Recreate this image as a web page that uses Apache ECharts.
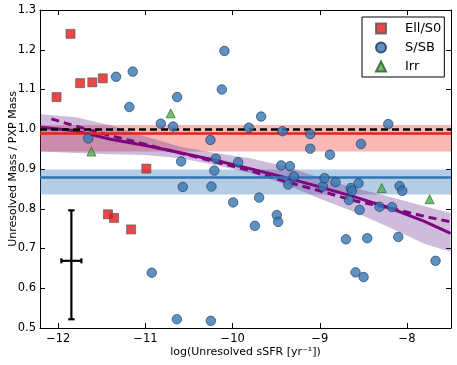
<!DOCTYPE html>
<html>
<head>
<meta charset="utf-8">
<script src="https://cdn.jsdelivr.net/npm/echarts@6/dist/echarts.min.js"></script>
<style>
html,body{margin:0;padding:0;background:#fff;}
#main{width:457px;height:365px;}
</style>
</head>
<body>
<div id="main"></div>
<script>
// Ell/S0 galaxies
var ellSSFR=[-12.02,-11.86,-11.75,-11.61,-11.49,-10.99,-11.43,-11.36,-11.165];
var ellRatio=[1.081,1.240,1.116,1.118,1.128,0.901,0.786,0.777,0.748];
// S/SB galaxies
var spSSFR=[-11.656,-11.337,-11.146,-11.185,-10.928,-10.824,-10.683,-10.637,-10.64,-10.591,
	-10.572,-10.255,-10.25,-10.243,-10.21,-10.193,-10.124,-10.094,-9.994,-9.937,
	-9.814,-9.745,-9.696,-9.673,-9.493,-9.478,-9.443,-9.428,-9.363,-9.343,
	-9.297,-9.11,-9.11,-8.965,-8.946,-8.884,-8.82,-8.70,-8.666,-8.643,
	-8.632,-8.59,-8.556,-8.544,-8.528,-8.498,-8.456,-8.315,-8.215,-8.172,
	-8.10,-8.085,-8.054,-7.672];
var spRatio=[0.977,1.132,1.145,1.056,0.639,1.014,1.007,1.081,0.522,0.919,
	0.855,0.973,0.518,0.856,0.896,0.926,1.100,1.197,0.816,0.917,
	1.004,0.757,0.828,1.032,0.784,0.767,0.909,0.995,0.861,0.907,
	0.881,0.988,0.951,0.856,0.877,0.936,0.867,0.723,0.822,0.852,
	0.845,0.640,0.864,0.797,0.963,0.628,0.726,0.805,1.013,0.804,
	0.729,0.857,0.845,0.669];
// Irr galaxies
var irrSSFR=[-10.71,-11.62,-8.29,-7.74];
var irrRatio=[1.040,0.944,0.852,0.824];

// reference levels
var unity=1.0;
var ellMedian=0.988, ellBand=[0.944,1.011];
var spMedian=0.877, spBand=[0.836,0.899];

// running median (solid), fit (dashed) and spread band
var trendX=[-12.2,-11.8,-11.4,-11.0,-10.6,-10.2,-9.8,-9.4,-9.0,-8.6,-8.2,-7.8,-7.5];
var trendMedian=[1.005,0.996,0.975,0.959,0.941,0.922,0.901,0.879,0.855,0.830,0.802,0.768,0.738];
var bandLow=[0.944,0.940,0.937,0.935,0.927,0.910,0.890,0.862,0.825,0.792,0.753,0.712,0.692];
var bandHigh=[1.038,1.030,1.010,0.982,0.956,0.940,0.927,0.907,0.878,0.852,0.830,0.806,0.789];
var fitX=[-12.08,-11.8,-11.4,-11.0,-10.6,-10.2,-9.8,-9.4,-9.0,-8.6,-8.2,-7.8,-7.5];
var fitRatio=[1.026,1.008,0.984,0.962,0.940,0.918,0.896,0.869,0.845,0.820,0.802,0.781,0.767];

// typical error bar
var errPoint=[-11.85,0.669];
var errX=[-11.965,-11.735];
var errY=[0.522,0.796];

var xTicks=[-12,-11,-10,-9,-8];

function zip(a,b){
	var out=[];
	for(var i=0;i<a.length;i++){ out.push([a[i],b[i]]); }
	return out;
}

var font='DejaVu Sans';
var xMin=-12.21, xMax=-7.495;

var myChart=echarts.init(document.getElementById('main'));
var option={
	animation:false,
	backgroundColor:'#fff',
	textStyle:{fontFamily:font},
	grid:{left:40,right:6,top:10,bottom:37,outerBoundsMode:'none',containLabel:false},
	legend:{
		orient:'vertical',
		left:362,top:17,
		padding:[5,3,4,13],
		borderColor:'#000',borderWidth:1,borderRadius:0,
		backgroundColor:'#fff',
		itemWidth:10,itemHeight:10,itemGap:6,
		formatter:'{t|{name}}',
		textStyle:{fontFamily:font,fontSize:13,color:'#000',lineHeight:13,
			rich:{t:{fontFamily:font,fontSize:13,color:'#000',lineHeight:13,padding:[0,0,0,14]}}},
		data:['Ell/S0','S/SB','Irr']
	},
	xAxis:[{
		type:'value',min:xMin,max:xMax,
		name:'log(Unresolved sSFR [yr\u207B\u00B9])',
		nameLocation:'middle',nameGap:19,nameMoveOverlap:false,
		nameTextStyle:{fontFamily:font,fontSize:11,color:'#000'},
		axisLine:{show:true,lineStyle:{color:'#000',width:1}},
		axisTick:{show:true,inside:true,length:5,customValues:xTicks,lineStyle:{color:'#000'}},
		axisLabel:{customValues:xTicks,margin:5,fontFamily:font,fontSize:11.5,color:'#000',
			formatter:function(v){ return v<0?'\u2212'+Math.abs(v):String(v); }},
		splitLine:{show:false}
	},{
		type:'value',min:xMin,max:xMax,position:'top',
		axisLine:{show:true,lineStyle:{color:'#000',width:1}},
		axisTick:{show:true,inside:true,length:5,customValues:xTicks,lineStyle:{color:'#000'}},
		axisLabel:{show:false},
		splitLine:{show:false}
	}],
	yAxis:[{
		type:'value',min:0.5,max:1.3,interval:0.1,
		name:'Unresolved Mass / PXP Mass',
		nameLocation:'middle',nameGap:21,nameMoveOverlap:false,
		nameTextStyle:{fontFamily:font,fontSize:11,color:'#000'},
		axisLine:{show:true,lineStyle:{color:'#000',width:1}},
		axisTick:{show:true,inside:true,length:5,lineStyle:{color:'#000'}},
		axisLabel:{margin:4,fontFamily:font,fontSize:11.5,color:'#000',
			formatter:function(v){ return v.toFixed(1); }},
		splitLine:{show:false}
	},{
		type:'value',min:0.5,max:1.3,interval:0.1,position:'right',
		axisLine:{show:true,lineStyle:{color:'#000',width:1}},
		axisTick:{show:true,inside:true,length:5,lineStyle:{color:'#000'}},
		axisLabel:{show:false},
		splitLine:{show:false}
	}],
	series:[
		{
			// Ell/S0 median and spread
			name:'ellRef',type:'line',data:[],z:1,silent:true,
			markArea:{silent:true,itemStyle:{color:'rgba(240,40,30,0.33)'},
				data:[[{yAxis:ellBand[0]},{yAxis:ellBand[1]}]]},
			markLine:{silent:true,symbol:'none',label:{show:false},
				lineStyle:{color:'#e8201c',width:2.5,type:'solid'},
				data:[{yAxis:ellMedian}]}
		},
		{
			// S/SB median and spread
			name:'spRef',type:'line',data:[],z:1,silent:true,
			markArea:{silent:true,itemStyle:{color:'rgba(50,116,181,0.36)'},
				data:[[{yAxis:spBand[0]},{yAxis:spBand[1]}]]},
			markLine:{silent:true,symbol:'none',label:{show:false},
				lineStyle:{color:'#3274b5',width:2.5,type:'solid'},
				data:[{yAxis:spMedian}]}
		},
		{
			name:'unity',type:'line',data:[],z:2,silent:true,
			markLine:{silent:true,symbol:'none',label:{show:false},
				lineStyle:{color:'#000',width:2.5,type:[7,4]},
				data:[{yAxis:unity}]}
		},
		{
			// spread of the trend
			name:'band',type:'custom',z:3,silent:true,
			data:trendX.map(function(x,i){ return [x,bandLow[i],bandHigh[i]]; }),
			encode:{x:0,y:[1,2]},
			renderItem:function(params,api){
				if(params.dataIndex!==0) return null;
				var pts=[];
				for(var i=0;i<trendX.length;i++){ pts.push(api.coord([trendX[i],bandHigh[i]])); }
				for(var j=trendX.length-1;j>=0;j--){ pts.push(api.coord([trendX[j],bandLow[j]])); }
				return {type:'polygon',shape:{points:pts},style:{fill:'rgba(110,50,150,0.33)'}};
			}
		},
		{
			name:'median',type:'line',z:4,silent:true,symbol:'none',
			data:zip(trendX,trendMedian),
			lineStyle:{color:'#7e067f',width:3}
		},
		{
			name:'fit',type:'line',z:4,silent:true,symbol:'none',
			data:zip(fitX,fitRatio),
			lineStyle:{color:'#7e067f',width:3,type:[8,5]}
		},
		{
			name:'Ell/S0',type:'scatter',z:5,symbol:'rect',symbolSize:9,
			data:zip(ellSSFR,ellRatio),
			itemStyle:{color:'#e41a1c',borderColor:'#555',borderWidth:0.8}
		},
		{
			name:'S/SB',type:'scatter',z:5,symbol:'circle',symbolSize:9.5,
			data:zip(spSSFR,spRatio),
			itemStyle:{color:'#3677b5',borderColor:'#1b3550',borderWidth:0.8}
		},
		{
			name:'Irr',type:'scatter',z:5,symbol:'triangle',symbolSize:9,
			data:zip(irrSSFR,irrRatio),
			itemStyle:{color:'#4daf4a',borderColor:'#2a5a28',borderWidth:0.8}
		},
		{
			name:'err',type:'custom',z:6,silent:true,
			data:[[errPoint[0],errPoint[1],errX[0],errX[1],errY[0],errY[1]]],
			encode:{x:0,y:1},
			renderItem:function(params,api){
				var l=api.coord([api.value(2),api.value(1)]);
				var r=api.coord([api.value(3),api.value(1)]);
				var b=api.coord([api.value(0),api.value(4)]);
				var t=api.coord([api.value(0),api.value(5)]);
				var st={stroke:'#000',lineWidth:2.2};
				var cap=3.2;
				return {type:'group',children:[
					{type:'line',shape:{x1:b[0],y1:b[1],x2:t[0],y2:t[1]},style:st},
					{type:'line',shape:{x1:l[0],y1:l[1],x2:r[0],y2:r[1]},style:st},
					{type:'line',shape:{x1:t[0]-cap,y1:t[1],x2:t[0]+cap,y2:t[1]},style:st},
					{type:'line',shape:{x1:b[0]-cap,y1:b[1],x2:b[0]+cap,y2:b[1]},style:st},
					{type:'line',shape:{x1:l[0],y1:l[1]-2.5,x2:l[0],y2:l[1]+2.5},style:st},
					{type:'line',shape:{x1:r[0],y1:r[1]-2.5,x2:r[0],y2:r[1]+2.5},style:st}
				]};
			}
		}
	]
};
myChart.setOption(option);
</script>
</body>
</html>
